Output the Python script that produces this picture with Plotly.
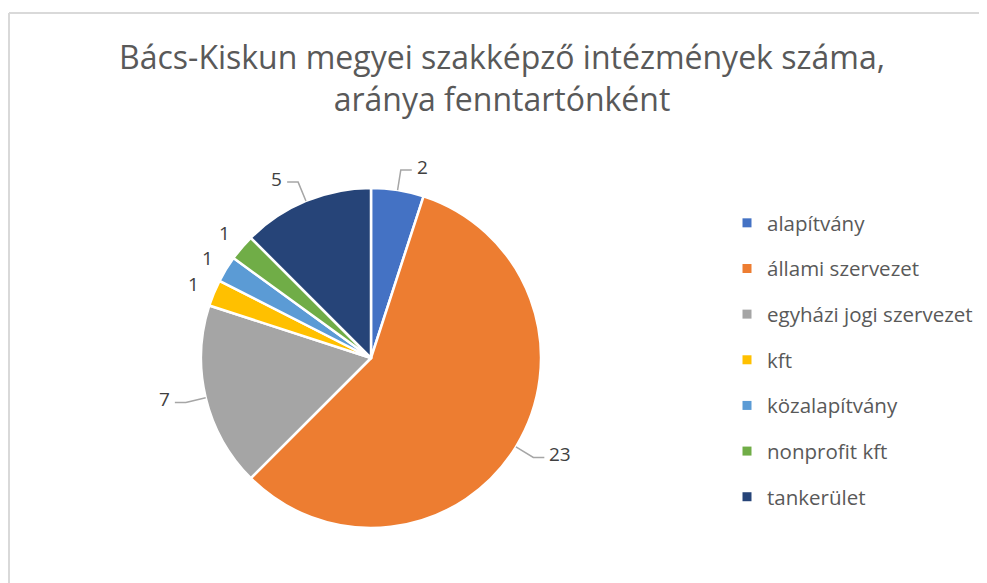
import math
import plotly.graph_objects as go

categories = ["alapítvány", "állami szervezet", "egyházi jogi szervezet", "kft",
              "közalapítvány", "nonprofit kft", "tankerület"]
values = [2, 23, 7, 1, 1, 1, 5]
colors = ["#4472C4", "#ED7D31", "#A5A5A5", "#FFC000", "#5B9BD5", "#70AD47", "#264478"]

# figure is shown with the page's 8px body margin, so size it to fit the window
W, H = 979, 575
FONT = "Open Sans"

# pie geometry (paper pixels)
CX, CY, R = 363, 350, 170

fig = go.Figure()
fig.add_trace(go.Pie(
    labels=categories, values=values, sort=False, direction="clockwise", rotation=0,
    marker=dict(colors=colors, line=dict(color="white", width=2.5)),
    textinfo="none",
    domain=dict(x=[(CX - R) / W, (CX + R) / W], y=[(H - CY - R) / H, (H - CY + R) / H]),
    showlegend=False, hoverinfo="label+value+percent",
))

for c, col in zip(categories, colors):
    fig.add_trace(go.Scatter(
        x=[None], y=[None], mode="markers", name=c, legendgroup=c,
        marker=dict(symbol="square", size=9, color=col), hoverinfo="skip",
    ))


def px(x):
    return x / W


def py(y):
    return 1 - y / H


# data labels with elbow leader lines, placed from each slice's mid-angle
total = sum(values)
annotations, shapes = [], []
lab_font = dict(family=FONT, size=19, color="#404040")
cum = 0
for v in values:
    mid = (cum + v / 2) / total * 2 * math.pi
    cum += v
    sx, sy = math.sin(mid), -math.cos(mid)
    if v >= 2:
        ex, ey = CX + R * sx, CY + R * sy
        bx, by = CX + R * 1.12 * sx, CY + R * 1.12 * sy
        d = 1 if sx >= 0 else -1
        hx = bx + d * 11
        shapes.append(dict(type="path", xref="paper", yref="paper",
                           path=f"M {px(ex)} {py(ey)} L {px(bx)} {py(by)} L {px(hx)} {py(by)}",
                           line=dict(color="#A6A6A6", width=1.5)))
        annotations.append(dict(
            x=px(hx + d * 3), y=py(by - 3), xref="paper", yref="paper", text=str(v),
            showarrow=False, xanchor="left" if d > 0 else "right", yanchor="middle",
            font=lab_font,
        ))
    else:
        k = 1.13
        annotations.append(dict(
            x=px(CX + R * k * sx), y=py(CY + R * k * sy), xref="paper", yref="paper",
            text=str(v), showarrow=False, xanchor="center", yanchor="middle", font=lab_font,
        ))

# chart-area border (left and top edges visible in the crop)
border = dict(color="#D9D9D9", width=2)
shapes.append(dict(type="line", xref="paper", yref="paper",
                   x0=1 / W, x1=1 / W, y0=-0.02, y1=py(5), line=border, layer="below"))
shapes.append(dict(type="line", xref="paper", yref="paper",
                   x0=1 / W, x1=1.02, y0=py(5), y1=py(5), line=border, layer="below"))

fig.update_layout(
    width=W, height=H,
    margin=dict(l=0, r=0, t=0, b=0),
    paper_bgcolor="white", plot_bgcolor="white",
    xaxis=dict(visible=False), yaxis=dict(visible=False),
    title=dict(text="Bács-Kiskun megyei szakképző intézmények száma,<br>aránya fenntartónként",
               x=px(494), xanchor="center", y=py(61), yanchor="top",
               font=dict(family=FONT, size=32, color="#595959")),
    legend=dict(x=px(719), xanchor="left", y=py(195), yanchor="top",
                font=dict(family=FONT, size=20.5, color="#595959"),
                tracegroupgap=16, itemwidth=30, bgcolor="rgba(0,0,0,0)"),
    annotations=annotations,
    shapes=shapes,
)

fig.write_html("out.html")
